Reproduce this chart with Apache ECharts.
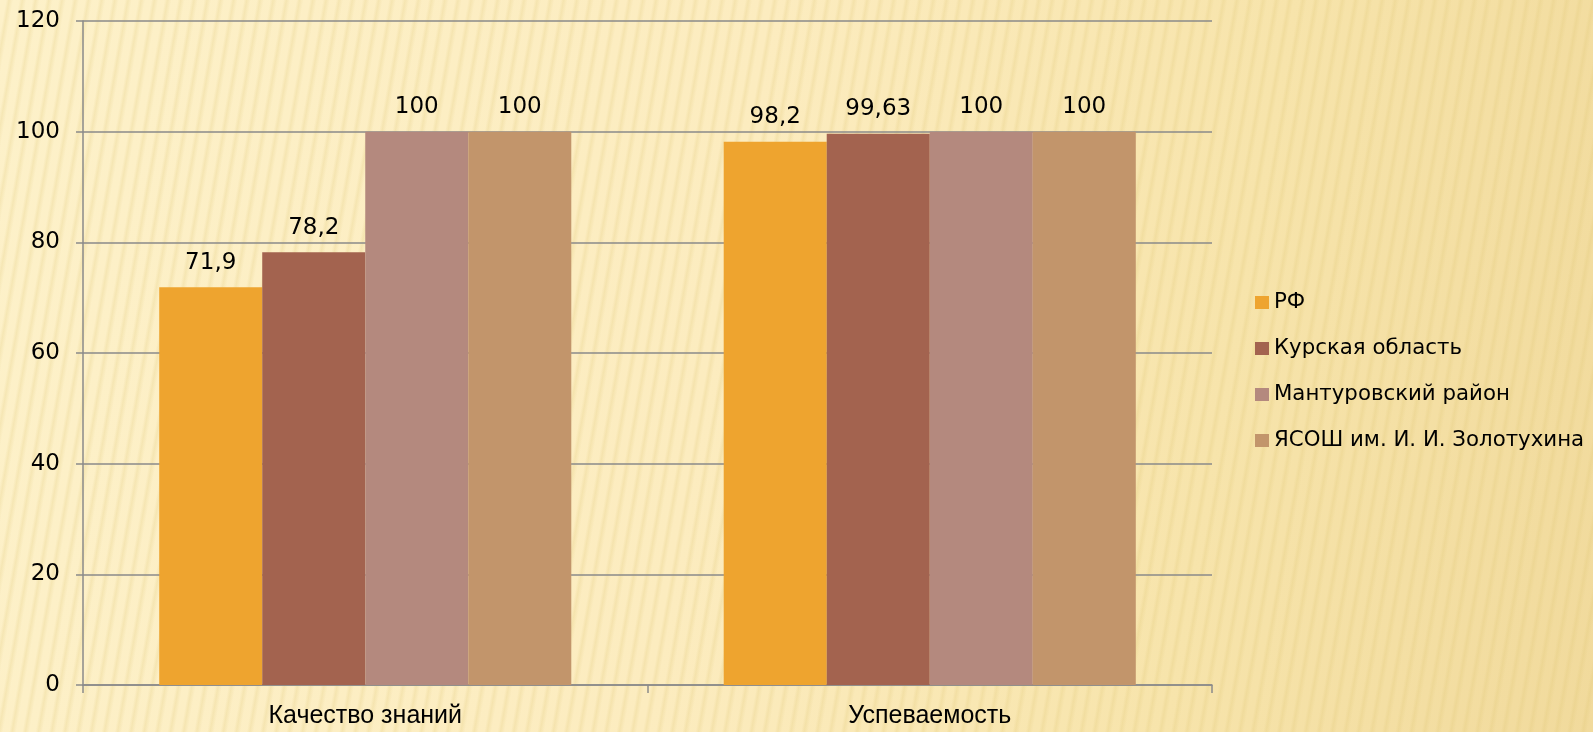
<!DOCTYPE html>
<html><head><meta charset="utf-8">
<script src="https://cdn.jsdelivr.net/npm/echarts@6/dist/echarts.min.js"></script>
<style>
html,body{margin:0;padding:0;width:1593px;height:732px;overflow:hidden;}
body{
  background:
    repeating-linear-gradient(100deg, rgba(255,250,225,0.0) 0px, rgba(255,250,225,0.0) 6px, rgba(220,195,110,0.22) 9px, rgba(255,250,225,0.0) 13px),
    linear-gradient(100deg, #fdf1c9 0%, #fcecbf 45%, #f7e4ab 75%, #f1da9c 100%);
}
#c{width:1593px;height:732px;}
</style></head>
<body><div id="c"></div>
<script>
const categories = ['Качество знаний', 'Успеваемость'];
const seriesNames = ['РФ', 'Курская область', 'Мантуровский район', 'ЯСОШ им. И. И. Золотухина'];
const rf = [71.9, 98.2];
const kursk = [78.2, 99.63];
const manturovo = [100, 100];
const school = [100, 100];
const yTicks = [0, 20, 40, 60, 80, 100, 120];

const colors = ['#EEA42F', '#A3634F', '#B4897E', '#C2956B'];
const values = [rf, kursk, manturovo, school];
const font = 'DejaVu Sans';

const chart = echarts.init(document.getElementById('c'), null, {renderer: 'canvas'});
chart.setOption({
  backgroundColor: 'transparent',
  animation: false,
  color: colors,
  grid: {left: 83, right: 381, top: 21, bottom: 47, containLabel: false},
  legend: {
    orient: 'vertical', left: 1250, top: 287, itemGap: 25,
    itemWidth: 14, itemHeight: 13, icon: 'rect',
    textStyle: {fontFamily: font, fontSize: 21.3, color: '#000'},
    data: seriesNames
  },
  xAxis: {
    type: 'category', data: categories,
    axisLine: {lineStyle: {color: '#8a8a8a', width: 1.5}},
    axisTick: {show: true, length: 8, lineStyle: {color: '#8a8a8a', width: 1.5}},
    axisLabel: {fontFamily: 'Liberation Sans', fontSize: 25, color: '#000', margin: 19}
  },
  yAxis: {
    type: 'value', min: yTicks[0], max: yTicks[yTicks.length-1], interval: 20,
    axisLine: {show: true, lineStyle: {color: '#8a8a8a', width: 1.5}},
    axisTick: {show: true, length: 7, lineStyle: {color: '#8a8a8a', width: 1.5}},
    splitLine: {lineStyle: {color: '#8a8a8a', width: 1.5}},
    axisLabel: {fontFamily: font, fontSize: 23, color: '#000', margin: 23}
  },
  series: seriesNames.map((n, i) => ({
    name: n, type: 'bar', data: values[i],
    barGap: '0%', barCategoryGap: '27%',
    itemStyle: {color: colors[i]},
    label: {show: true, position: 'top', distance: 13, fontFamily: font, fontSize: 23, color: '#000',
      formatter: p => String(p.value).replace('.', ',')}
  }))
});
</script></body></html>
